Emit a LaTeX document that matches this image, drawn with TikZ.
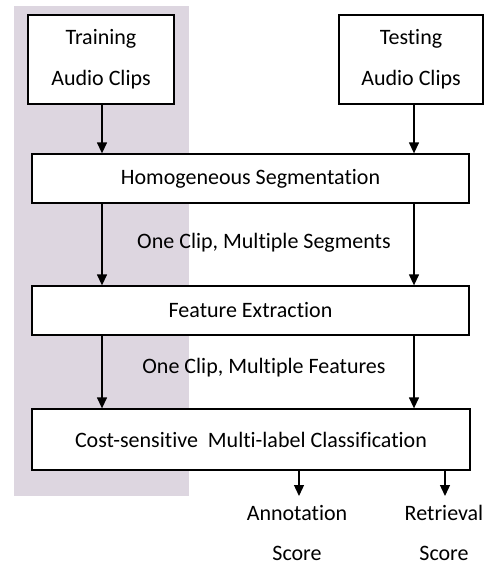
\documentclass[tikz,border=0pt]{standalone}
\usepackage{fontspec}
\setmainfont{Carlito}[Ligatures=NoCommon]
\usetikzlibrary{arrows.meta}
\definecolor{bgshade}{RGB}{221,214,224}
\begin{document}
\begin{tikzpicture}[x=1pt,y=-1pt,
  box/.style={draw,line width=1.3pt,fill=white,inner sep=0pt,align=center,font=\fontsize{22}{41}\selectfont},
  lbl/.style={inner sep=0pt,align=center,font=\fontsize{22}{40}\selectfont},
  arr/.style={line width=1.3pt,-{Triangle[length=11pt,width=10pt]}}]
\useasboundingbox (0,0) rectangle (484,565);
\fill[bgshade] (14,6) rectangle (189,496);
\node[box,minimum width=146pt,minimum height=89pt] (train) at (101,59.5) {Training\\Audio Clips};
\node[box,minimum width=144pt,minimum height=89pt] (test) at (411,59.5) {Testing\\Audio Clips};
\node[box,minimum width=437pt,minimum height=49pt] (homo) at (250.5,178.5) {Homogeneous Segmentation};
\node[box,minimum width=437pt,minimum height=49pt] (feat) at (250.5,310.5) {Feature Extraction};
\node[box,minimum width=438pt,minimum height=61pt] (cost) at (251,439.5) {Cost-sensitive\ \ Multi-label Classification};
\coordinate (lx) at (102,0);
\coordinate (rx) at (414,0);
\draw[arr] (train.south -| lx) -- (homo.north -| lx);
\draw[arr] (test.south -| rx) -- (homo.north -| rx);
\draw[arr] (homo.south -| lx) -- (feat.north -| lx);
\draw[arr] (homo.south -| rx) -- (feat.north -| rx);
\draw[arr] (feat.south -| lx) -- (cost.north -| lx);
\draw[arr] (feat.south -| rx) -- (cost.north -| rx);
\node[lbl] (seg) at (264,243) {One Clip, Multiple Segments};
\node[lbl] (fea) at (264,368) {One Clip, Multiple Features};
\coordinate (a1) at (299,496);
\coordinate (a2) at (445,496);
\draw[arr] (cost.south -| a1) -- (a1);
\draw[arr] (cost.south -| a2) -- (a2);
\node[lbl,anchor=north] (ann) at (297,505) {Annotation\\Score};
\node[lbl,anchor=north] (ret) at (444,505) {Retrieval\\Score};
\end{tikzpicture}
\end{document}
